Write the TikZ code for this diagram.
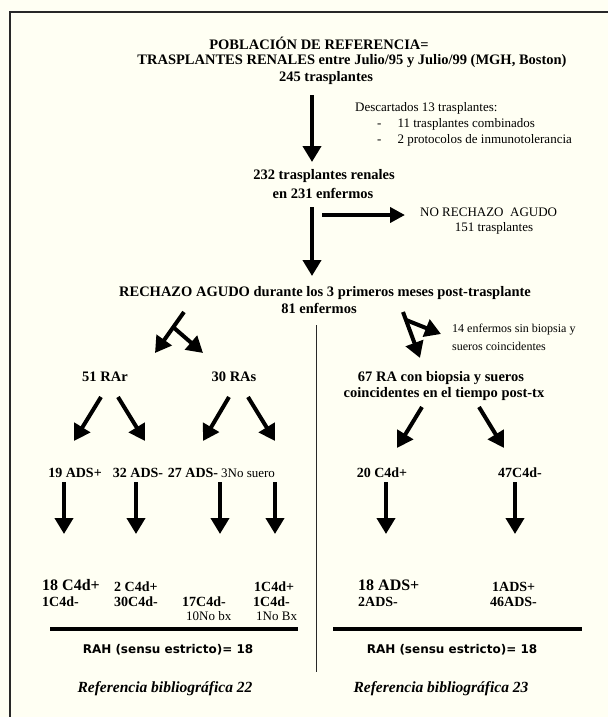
\documentclass[tikz,border=0pt]{standalone}
\usepackage{fontspec}
\setmainfont{Liberation Serif}
\newfontfamily\rahfont{DejaVu Sans}
\usetikzlibrary{arrows.meta}
\definecolor{bgcream}{RGB}{255,255,243}
\definecolor{framegray}{RGB}{40,40,40}
\tikzset{
  bigarrow/.style={line width=4pt, -{Triangle[length=16pt,width=18pt]}},
  bt/.style={inner sep=0pt, font=\fontsize{14.5}{17}\selectfont\bfseries},
  btrow/.style={inner sep=0pt, font=\fontsize{14}{16}\selectfont\bfseries},
  btbig/.style={inner sep=0pt, font=\fontsize{16}{18}\selectfont\bfseries},
  rt/.style={inner sep=0pt, font=\fontsize{13}{15}\selectfont},
  rtsmall/.style={inner sep=0pt, font=\fontsize{12}{14}\selectfont},
  raht/.style={inner sep=0pt, font=\fontsize{12}{14}\selectfont\rahfont\bfseries},
  reft/.style={inner sep=0pt, font=\fontsize{15.5}{17}\selectfont\bfseries\itshape},
}
\begin{document}
\begin{tikzpicture}[x=1pt,y=-1pt]
\fill[bgcream] (0,0) rectangle (608,717);
\useasboundingbox (0,0) rectangle (608,717);
% frame
\draw[framegray, line width=1.3pt] (10,717) -- (10,12) -- (608,12);

% title
\node[bt] (t1) at (319,43) {POBLACIÓN DE REFERENCIA=};
\node[bt] (t2) at (352,61) {TRASPLANTES RENALES entre Julio/95 y Julio/99 (MGH, Boston)};
\node[bt] (t3) at (326,78) {245 trasplantes};

% excluded
\node[rt, anchor=base west] (d0) at (355,111) {Descartados 13 trasplantes:};
\node[rt, anchor=base west] (d1) at (377,127) {-\hspace{16pt}11 trasplantes combinados};
\node[rt, anchor=base west] (d2) at (377,143) {-\hspace{16pt}2 protocolos de inmunotolerancia};

\coordinate (a1s) at (312,95);
\coordinate (a1e) at (312,162);
\draw[bigarrow] (a1s) -- (a1e);

\node[bt] (n232) at (324,176) {232 trasplantes renales};
\node[bt] (n231) at (323,193) {en 231 enfermos};

\coordinate (ahs) at (322,215);
\coordinate (ahe) at (405,215);
\draw[bigarrow, -{Triangle[length=15pt,width=15pt]}] (ahs) -- (ahe);
\node[rt, anchor=west] (nra) at (420,212) {NO RECHAZO\ \ AGUDO};
\node[rt] (n151) at (494,228) {151 trasplantes};

\coordinate (a2s) at (312,207);
\coordinate (a2e) at (312,276);
\draw[bigarrow] (a2s) -- (a2e);

\node[bt] (ra) at (325,293) {RECHAZO AGUDO durante los 3 primeros meses post-trasplante};
\node[bt] (n81) at (319,308) {81 enfermos};

% divider
\coordinate (dvs) at (316,325);
\coordinate (dve) at (316,672);
\draw[framegray, line width=0.9pt] (dvs) -- (dve);

% left split
\coordinate (ls) at (184,312);
\coordinate (lj) at (173,327);
\coordinate (le1) at (155,353);
\coordinate (le2) at (203,353);
\draw[bigarrow] (ls) -- (le1);
\draw[bigarrow] (lj) -- (le2);

% right split
\coordinate (rs) at (403,312);
\coordinate (rj) at (406,320);
\coordinate (re1) at (420,358);
\coordinate (re2) at (441,334);
\draw[bigarrow] (rs) -- (re1);
\draw[bigarrow] (rj) -- (re2);
\node[rtsmall, anchor=west] (e14a) at (452,330) {14 enfermos sin biopsia y};
\node[rtsmall, anchor=west] (e14b) at (452,346) {sueros coincidentes};

\node[bt] (r51) at (105,377) {51 RAr};
\node[bt] (r30) at (234,377) {30 RAs};
\node[bt] (r67a) at (441,378) {67 RA con biopsia y sueros};
\node[bt] (r67b) at (444,394) {coincidentes en el tiempo post-tx};

% second level arrows
\coordinate (b1s) at (101,397); \coordinate (b1e) at (74,441);
\coordinate (b2s) at (118,397); \coordinate (b2e) at (145,441);
\coordinate (b3s) at (229,397); \coordinate (b3e) at (203,441);
\coordinate (b4s) at (248,397); \coordinate (b4e) at (275,441);
\coordinate (b5s) at (422,407); \coordinate (b5e) at (397,448);
\coordinate (b6s) at (479,407); \coordinate (b6e) at (504,448);
\foreach \i in {1,...,6} \draw[bigarrow] (b\i s) -- (b\i e);

\node[btrow] (c1) at (75,473) {19 ADS+};
\node[btrow] (c2) at (138,473) {32 ADS-};
\node[btrow] (c3) at (193,473) {27 ADS-};
\node[rt, anchor=west] (c4) at (221,473) {3No suero};
\node[btrow] (c5) at (382,473) {20 C4d+};
\node[btrow] (c6) at (520,473) {47C4d-};

% third level arrows
\coordinate (v1s) at (64,482);  \coordinate (v1e) at (64,534);
\coordinate (v2s) at (136,482); \coordinate (v2e) at (136,534);
\coordinate (v3s) at (220,482); \coordinate (v3e) at (220,534);
\coordinate (v4s) at (275,482); \coordinate (v4e) at (275,534);
\coordinate (v5s) at (386,482); \coordinate (v5e) at (386,534);
\coordinate (v6s) at (515,482); \coordinate (v6e) at (515,534);
\foreach \i in {1,...,6} \draw[bigarrow] (v\i s) -- (v\i e);

% results
\node[btbig, anchor=base west] (f1a) at (42,590) {18 C4d+};
\node[btrow, anchor=base west] (f1b) at (42,606) {1C4d-};
\node[btrow, anchor=base west] (f2a) at (114,591) {2 C4d+};
\node[btrow, anchor=base west] (f2b) at (114,606) {30C4d-};
\node[btrow, anchor=base west] (f3b) at (182,606) {17C4d-};
\node[rt, anchor=base west] (f3c) at (186,620) {10No bx};
\node[btrow, anchor=base west] (f4a) at (254,591) {1C4d+};
\node[btrow, anchor=base west] (f4b) at (253,606) {1C4d-};
\node[rt, anchor=base west] (f4c) at (256,620) {1No Bx};
\node[btbig, anchor=base west] (f5a) at (358,590) {18 ADS+};
\node[btrow, anchor=base west] (f5b) at (358,606) {2ADS-};
\node[btrow, anchor=base west] (f6a) at (492,591) {1ADS+};
\node[btrow, anchor=base west] (f6b) at (490,606) {46ADS-};

% separating lines
\coordinate (h1s) at (50,629);  \coordinate (h1e) at (298,629);
\coordinate (h2s) at (333,629); \coordinate (h2e) at (582,629);
\draw[line width=3.2pt] (h1s) -- (h1e);
\draw[line width=3.2pt] (h2s) -- (h2e);

\node[raht] (rah1) at (168,650) {RAH (sensu estricto)= 18};
\node[raht] (rah2) at (452,650) {RAH (sensu estricto)= 18};
\node[reft] (ref1) at (165,689) {Referencia bibliográfica 22};
\node[reft] (ref2) at (441,689) {Referencia bibliográfica 23};
\end{tikzpicture}
\end{document}
